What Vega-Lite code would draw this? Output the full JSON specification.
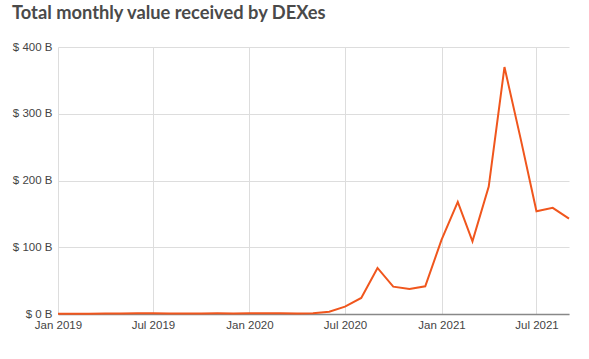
{
  "$schema": "https://vega.github.io/schema/vega-lite/v6.json",
  "width": 511,
  "height": 267,
  "autosize": {"type": "none"},
  "padding": {"left": 58, "top": 47, "right": 20, "bottom": 45},
  "background": "white",
  "title": {
    "text": "Total monthly value received by DEXes",
    "anchor": "start",
    "frame": "group",
    "dx": -46,
    "offset": 18,
    "font": "Lato",
    "fontSize": 18.3,
    "fontWeight": "bold",
    "color": "#4a4a4a"
  },
  "config": {"view": {"stroke": null}},
  "data": {
    "values": [
      {"month": "2019-01-01T00:00:00", "value": 0.4},
      {"month": "2019-02-01T00:00:00", "value": 0.4},
      {"month": "2019-03-01T00:00:00", "value": 0.5},
      {"month": "2019-04-01T00:00:00", "value": 0.6},
      {"month": "2019-05-01T00:00:00", "value": 0.9},
      {"month": "2019-06-01T00:00:00", "value": 1.2},
      {"month": "2019-07-01T00:00:00", "value": 1.0},
      {"month": "2019-08-01T00:00:00", "value": 0.8},
      {"month": "2019-09-01T00:00:00", "value": 0.6},
      {"month": "2019-10-01T00:00:00", "value": 0.7},
      {"month": "2019-11-01T00:00:00", "value": 1.0},
      {"month": "2019-12-01T00:00:00", "value": 0.8},
      {"month": "2020-01-01T00:00:00", "value": 1.0},
      {"month": "2020-02-01T00:00:00", "value": 1.3},
      {"month": "2020-03-01T00:00:00", "value": 1.2},
      {"month": "2020-04-01T00:00:00", "value": 0.9},
      {"month": "2020-05-01T00:00:00", "value": 1.2},
      {"month": "2020-06-01T00:00:00", "value": 3.5},
      {"month": "2020-07-01T00:00:00", "value": 11},
      {"month": "2020-08-01T00:00:00", "value": 24},
      {"month": "2020-09-01T00:00:00", "value": 69},
      {"month": "2020-10-01T00:00:00", "value": 41},
      {"month": "2020-11-01T00:00:00", "value": 37.5},
      {"month": "2020-12-01T00:00:00", "value": 41.5},
      {"month": "2021-01-01T00:00:00", "value": 111},
      {"month": "2021-02-01T00:00:00", "value": 168},
      {"month": "2021-03-01T00:00:00", "value": 109},
      {"month": "2021-04-01T00:00:00", "value": 191},
      {"month": "2021-05-01T00:00:00", "value": 370},
      {"month": "2021-06-01T00:00:00", "value": 262},
      {"month": "2021-07-01T00:00:00", "value": 154},
      {"month": "2021-08-01T00:00:00", "value": 159},
      {"month": "2021-09-01T00:00:00", "value": 143}
    ]
  },
  "mark": {"type": "line", "color": "#f0561d", "strokeWidth": 2, "strokeJoin": "miter"},
  "encoding": {
    "x": {
      "field": "month",
      "type": "temporal",
      "title": null,
      "scale": {"domain": [{"year": 2019, "month": 1, "date": 1}, {"year": 2021, "month": 9, "date": 1}]},
      "axis": {
        "values": [
          {"year": 2019, "month": 1, "date": 1},
          {"year": 2019, "month": 7, "date": 1},
          {"year": 2020, "month": 1, "date": 1},
          {"year": 2020, "month": 7, "date": 1},
          {"year": 2021, "month": 1, "date": 1},
          {"year": 2021, "month": 7, "date": 1}
        ],
        "format": "%b %Y",
        "labelFont": "Liberation Sans",
        "labelFontSize": 11.5,
        "labelColor": "#444",
        "labelPadding": 5,
        "labelFlush": false,
        "ticks": false,
        "domainColor": "#888",
        "domainWidth": 1.5,
        "grid": true,
        "gridColor": "#dddddd",
        "gridWidth": 1
      }
    },
    "y": {
      "field": "value",
      "type": "quantitative",
      "title": null,
      "scale": {"domain": [0, 400]},
      "axis": {
        "values": [0, 100, 200, 300, 400],
        "labelExpr": "'$ ' + datum.value + ' B'",
        "labelFont": "Liberation Sans",
        "labelFontSize": 11.5,
        "labelColor": "#444",
        "labelPadding": 6,
        "ticks": false,
        "domain": false,
        "grid": true,
        "gridColor": "#dddddd",
        "gridWidth": 1
      }
    }
  }
}
